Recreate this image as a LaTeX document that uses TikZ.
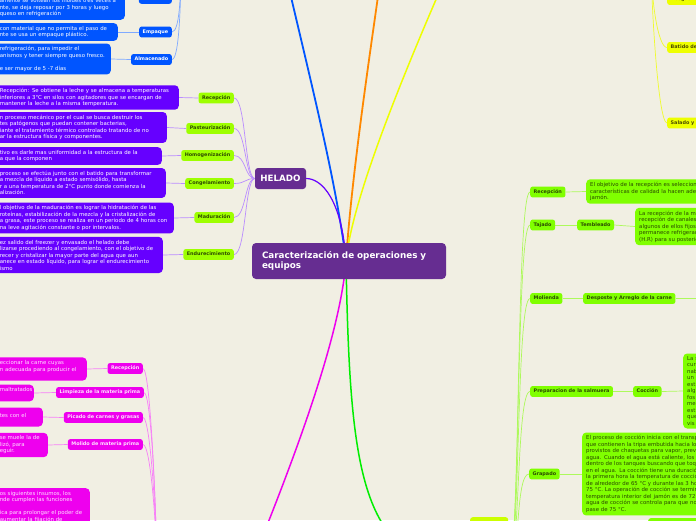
\documentclass[tikz,border=0pt]{standalone}
\usepackage{fontspec}
\setmainfont{DejaVu Sans}
\usetikzlibrary{positioning}
\definecolor{fondo}{HTML}{F1EFE3}
\definecolor{morado}{HTML}{662D91}
\definecolor{violeta}{HTML}{6600FF}
\definecolor{lima}{HTML}{9EFF00}
\definecolor{limaosc}{HTML}{2E4A00}
\definecolor{azul}{HTML}{0055FF}
\definecolor{naranja}{HTML}{FF8800}
\definecolor{amarillo}{HTML}{EEFF00}
\definecolor{oliva}{HTML}{4A4A00}
\definecolor{fucsia}{HTML}{EE00EE}
\definecolor{rosa}{HTML}{FFE0FF}
\definecolor{verde}{HTML}{80FF00}
\definecolor{verdeosc}{HTML}{2A4A00}
\definecolor{verdef}{HTML}{00EE00}
\definecolor{verdeam}{HTML}{CCFF00}
\newcommand{\letrachica}{\fontsize{5.4}{6.5}\selectfont}
\newcommand{\letraetq}{\fontsize{4.9}{6}\selectfont\bfseries}
\pgfdeclarelayer{capafondo}
\pgfdeclarelayer{lineas}
\pgfsetlayers{capafondo,lineas,main}
\tikzset{
  caja/.style={rounded corners=2.5pt,inner xsep=3.5pt,inner ysep=2.7pt,text height=4.2pt,text depth=1.3pt,font=\letraetq},
  cajal/.style={caja,fill=lima,text=limaosc},
  cajaa/.style={caja,fill=azul,text=white},
  cajaf/.style={caja,fill=fucsia,text=rosa},
  cajav/.style={caja,fill=verde,text=verdeosc},
  cajay/.style={caja,fill=amarillo,text=oliva,text width=40pt,align=left},
  nota/.style={rounded corners=4pt,inner xsep=4pt,inner ysep=3pt,align=left,font=\letrachica},
  notav/.style={nota,fill=violeta,text=white},
  notaa/.style={nota,fill=azul,text=white},
  notaf/.style={nota,fill=fucsia,text=rosa},
  notag/.style={nota,fill=verde,text=verdeosc},
  titulo/.style={fill=morado,text=white,rounded corners=4pt,align=left,text width=174pt,
    inner xsep=10pt,minimum height=36pt,font=\fontsize{8.8}{10.5}\selectfont\bfseries},
  tema/.style={fill=morado,text=white,rounded corners=3pt,minimum width=51pt,minimum height=21pt,
    inner sep=0pt,font=\fontsize{8.7}{10}\selectfont\bfseries},
  rama/.style={line width=1.8pt},
  hilo/.style={line width=0.7pt},
}

\begin{document}
\begin{tikzpicture}[x=1pt,y=-1pt]
  \useasboundingbox (0,0) rectangle (696,520);
  \begin{pgfonlayer}{capafondo}
    \fill[fondo] (0,0) rectangle (696,520);
  \end{pgfonlayer}
  % ===== centro =====
  \node[titulo] (tit) at (349,261) {Caracterización de operaciones y\\equipos};
  \coordinate (c0) at (346,261);
  \coordinate (azulP) at (278,-60);
  \coordinate (naranjaP) at (386,-60);
  \coordinate (amarilloP) at (462,-60);
  \coordinate (fucsiaP) at (245,580);
  \coordinate (azulS) at (181,-40);
  \coordinate (fucsiaS) at (157,575);
  \coordinate (amaS) at (651,-40);
  % ===== HELADO =====
  \node[tema] (helado) at (280.5,178.5) {HELADO};
  \node[cajal,anchor=east] (hrec) at (234,98) {Recepción};
  \node[cajal,anchor=east] (hpas) at (234,128.5) {Pasteurización};
  \node[cajal,anchor=east] (hhom) at (234,155.5) {Homogenización};
  \node[cajal,anchor=east] (hcon) at (234,183.5) {Congelamiento};
  \node[cajal,anchor=east] (hmad) at (234,217.5) {Maduración};
  \node[cajal,anchor=east] (hend) at (234,254.5) {Endurecimiento};
  \node[notav,text width=175pt,anchor=east] (dhrec) at (179,97.5)
    {Recepción: Se obtiene la leche y se almacena a temperaturas\\inferiores a 3°C en silos con agitadores que se encargan de\\mantener la leche a la misma temperatura.};
  \node[notav,text width=163pt,anchor=east] (dhpas) at (167,127.5)
    {n proceso mecánico por el cual se busca destruir los\\tes patógenos que puedan contener bacterias,\\iante el tratamiento térmico controlado tratando de no\\ar la estructura física y componentes.};
  \node[notav,text width=158pt,anchor=east] (dhhom) at (162,156)
    {tivo es darle mas uniformidad a la estructura de la\\a que la componen};
  \node[notav,text width=162pt,anchor=east] (dhcon) at (166,183)
    {proceso se efectúa junto con el batido para transformar\\a mezcla de líquido a estado semisólido, hasta\\r a una temperatura de 2°C punto donde comienza la\\alización.};
  \node[notav,text width=170pt,anchor=east] (dhmad) at (174,218)
    {l objetivo de la maduración es lograr la hidratación de las\\roteínas, estabilización de la mezcla y la cristalización de\\a grasa, este proceso se realiza en un periodo de 4 horas con\\na leve agitación constante o por intervalos.};
  \node[notav,text width=159pt,anchor=east] (dhend) at (163,255)
    {ez salido del freezer y envasado el helado debe\\lizarse procediendo al congelamiento, con el objetivo de\\recer y cristalizar la mayor parte del agua que aun\\anece en estado líquido, para lograr el endurecimiento\\ismo};
  % ===== rama azul =====
  \node[cajaa,anchor=south east] (aprn) at (172,4) {Prensado};
  \node[cajaa,anchor=east] (aemp) at (172,32) {Empaque};
  \node[cajaa,anchor=east] (aalm) at (172,59.5) {Almacenado};
  \node[notaa,text width=121pt,anchor=south east] (daprn) at (125,20)
    {amente se voltean los moldes tres veces a\\nte, se deja reposar por 3 horas y luego\\queso en refrigeración};
  \node[notaa,text width=114pt,anchor=east] (daemp) at (118,32)
    {con material que no permita el paso de\\nte se usa un empaque plástico.};
  \node[notaa,text width=107pt,anchor=east] (daalm) at (111,59)
    {refrigeración, para impedir el\\anismos y tener siempre queso fresco.\\\mbox{}\\e ser mayor de 5 -7 días};
  % ===== rama fucsia =====
  \node[cajaf,anchor=east] (frec) at (143,368.5) {Recepción};
  \node[cajaf,anchor=east] (flim) at (144,392.5) {Limpieza de la materia prima};
  \node[cajaf,anchor=east] (fpic) at (143,417.5) {Picado de carnes y grasas};
  \node[cajaf,anchor=east] (fmol) at (143,444.5) {Molido de materia prima};
  \node[notaf,text width=83pt,anchor=east] (dfrec) at (87,369)
    {eccionar la carne cuyas\\n adecuada para producir el\\\mbox{}};
  \node[notaf,text width=30pt,anchor=east] (dflim) at (34,393) {maltratados\\\mbox{}};
  \node[notaf,text width=39pt,anchor=east] (dfpic) at (43,417) {\mbox{}\\tes con el\\\mbox{}};
  \node[notaf,text width=44pt,anchor=east] (dfmol) at (48,445) {se muele la de\\lizó, para\\eguir.};
  \node[notaf,text width=86pt,anchor=north east] (dfcur) at (90,488)
    {os siguientes insumos, los\\nde cumplen las funciones\\\mbox{}\\ica para prolongar el poder de\\aumentar la fijación de};
  % ===== rama verde =====
  \node[cajav,fill=verdeam,anchor=north west,minimum width=38pt,minimum height=100pt] (jam) at (470,517) {};
  \node[cajav,anchor=west] (jrec) at (530,192) {Recepción};
  \node[cajav,anchor=west] (jtaj) at (530,225) {Tajado};
  \node[cajav,anchor=west] (jmol) at (530,298.5) {Molienda};
  \node[cajav,anchor=west] (jsal) at (530,391.5) {Preparacion de la salmuera};
  \node[cajav,anchor=west] (jgra) at (529,474) {Grapado};
  \node[cajav,anchor=west] (jtem) at (577,225) {Tembleado};
  \node[cajav,anchor=west] (jdes) at (583,298.5) {Desposte y Arreglo de la carne};
  \node[cajav,anchor=west] (jcoc) at (633,391.5) {Cocción};
  \coordinate (djdes) at (720,298.5);
  \node[notag,anchor=west,text width=150pt] (djrec) at (586,191.5)
    {El objetivo de la recepción es seleccionar\\características de calidad la hacen adecuada\\jamón.};
  \node[notag,anchor=west,text width=100pt] (djtem) at (635,226.5)
    {La recepción de la materia\\recepción de canales\\algunos de ellos fijos\\permanece refrigerada\\(H.R) para su posterior};
  \node[notag,anchor=west,text width=60pt] (djcoc) at (683,391)
    {La s\\cur\\nab\\un\\est\\alg\\fos\\me\\est\\que\\vis};
  \node[notag,anchor=west,text width=150pt] (djgra) at (582,474)
    {El proceso de cocción inicia con el transporte\\que contienen la tripa embutida hacia los\\provistos de chaquetas para vapor, previamente\\agua. Cuando el agua está caliente, los\\dentro de los tanques buscando que toquen\\en el agua. La cocción tiene una duración\\la primera hora la temperatura de cocción\\de alrededor de 65 °C y durante las 3 horas\\75 °C. La operación de cocción se termina\\temperatura interior del jamón es de 72\\agua de cocción se controla para que no\\pase de 75 °C.};
  \node[cajav,anchor=north west,minimum width=60pt,minimum height=14pt] (jbot) at (648,518) {};
  % ===== rama amarilla =====
  \node[cajay,anchor=west] (ydes) at (667,-0.5) {Desgasificación};
  \node[cajay,anchor=west] (ybat) at (667,47.5) {Batido de};
  \node[cajay,anchor=west] (ysal) at (667,123) {Salado y};
  % ===== conectores =====
  \begin{pgfonlayer}{lineas}
    \draw[rama,azul] (c0) .. controls (335,170) and (300,40) .. (azulP);
    \draw[rama,naranja] (c0) .. controls (352,170) and (372,40) .. (naranjaP);
    \draw[rama,amarillo,line width=1.5pt] (c0) .. controls (352,200) and (400,80) .. (amarilloP);
    \draw[rama,violeta,line width=1.2pt] (c0) .. controls (342,200) and (322,178.5) .. (helado.east);
    \draw[rama,fucsia,line width=1.5pt] (c0) .. controls (340,340) and (290,470) .. (fucsiaP);
    \draw[rama,verdef,line width=1.5pt] (c0) .. controls (350,470) and (360,567) .. (jam.west);
    \foreach \n in {hrec,hpas,hhom,hcon,hmad,hend}
      \draw[hilo,violeta!45] (helado.west) .. controls +(-10,0) and +(12,0) .. (\n.east);
    \foreach \d/\n in {dhrec/hrec,dhpas/hpas,dhhom/hhom,dhcon/hcon,dhmad/hmad,dhend/hend}
      \draw[hilo,violeta!45] (\d.east) -- (\n.west);
    \foreach \n in {aprn,aemp,aalm}
      \draw[hilo,azul!50] (\n.east) .. controls +(8,0) and +(0,30) .. (azulS);
    \draw[hilo,azul!50] (aprn.west -| daprn.east) -- (aprn.west);
    \draw[hilo,azul!50] (daemp.east) -- (aemp.west);
    \draw[hilo,azul!50] (daalm.east) -- (aalm.west);
    \foreach \n in {frec,flim,fpic,fmol}
      \draw[hilo,fucsia!50] (\n.east) .. controls +(8,0) and +(0,-40) .. (fucsiaS);
    \foreach \d/\n in {dfrec/frec,dflim/flim,dfpic/fpic,dfmol/fmol}
      \draw[hilo,fucsia!50] (\d.east) -- (\n.west);
    \foreach \n in {jrec,jtaj,jmol,jsal,jgra}
      \draw[hilo,verde!60!fondo] (jam.east) .. controls +(12,0) and +(-14,0) .. (\n.west);
    \draw[hilo,verde!60!fondo] (jrec.east) -- (djrec.west);
    \draw[hilo,verde!60!fondo] (jtaj.east) -- (jtem.west);
    \draw[hilo,verde!60!fondo] (jtem.east) -- (djtem.west);
    \draw[hilo,verde!60!fondo] (jmol.east) -- (jdes.west);
    \draw[hilo,verde!60!fondo] (jdes.east) -- (djdes);
    \draw[hilo,verde!60!fondo] (jsal.east) -- (jcoc.west);
    \draw[hilo,verde!60!fondo] (jcoc.east) -- (djcoc.west);
    \draw[hilo,verde!60!fondo] (jgra.east) -- (djgra.west);
    \foreach \n in {ydes,ybat,ysal}
      \draw[hilo,amarillo!80!fondo] (\n.west) .. controls +(-9,0) and +(0,40) .. (amaS);
  \end{pgfonlayer}
\end{tikzpicture}
\end{document}
